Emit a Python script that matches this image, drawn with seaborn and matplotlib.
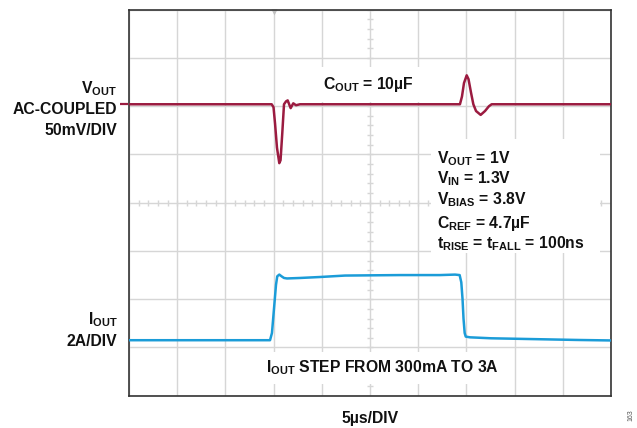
import numpy as np
import pandas as pd
import matplotlib
matplotlib.use("Agg")
import matplotlib.pyplot as plt
from matplotlib.patches import Rectangle
import seaborn as sns

t_vout = [0, 14.80, 14.99, 15.15, 15.35, 15.59, 15.72, 15.90, 16.08, 16.29, 16.46,
          16.77, 17.04, 17.32, 17.74, 34.33, 34.54, 34.75, 35.03, 35.22, 35.48,
          35.72, 36.00, 36.48, 36.93, 37.34, 37.62, 38.48, 50]
vout_mv = [0, 0, -3, -20, -45, -61, -58, -30, 0, 3, 4,
           -4, 1, -1, 0, 0, 8, 22, 30, 26, 12,
           0, -7, -11, -7, -2, 0, 0, 0]

t_iout = [0, 14.63, 14.83, 15.04, 15.25, 15.38, 15.59, 15.82, 16.08, 16.39, 17.74,
          19.81, 22.41, 28.11, 32.26, 33.82, 34.30, 34.47, 34.60, 34.70, 34.82,
          34.93, 35.37, 37.55, 41.39, 46.58, 50]
iout_a = [0.30, 0.30, 0.60, 1.60, 2.60, 2.95, 3.02, 2.95, 2.88, 2.86, 2.88,
          2.92, 2.98, 3.00, 3.00, 3.02, 3.00, 2.70, 2.00, 1.20, 0.60,
          0.45, 0.42, 0.38, 0.35, 0.31, 0.29]

us_por_div = 5
mv_por_div = 50
a_por_div = 2
vout_offset = 6.04   # posicao do canal Vout (divisoes)
iout_zero = 1.0      # posicao do zero do canal Iout (divisoes)
trigger_us = 15

cor_vout = "#9B1B40"
cor_iout = "#1B9CD8"
cor_grade = "#D6D6D6"
cor_texto = "#111111"

df_v = pd.DataFrame({"t": t_vout, "y": vout_offset + np.array(vout_mv) / mv_por_div})
df_i = pd.DataFrame({"t": t_iout, "y": iout_zero + np.array(iout_a) / a_por_div})

sns.set_theme(style="white")
plt.rcParams["font.family"] = ["Liberation Sans", "DejaVu Sans"]
plt.rcParams["mathtext.fontset"] = "custom"
plt.rcParams["mathtext.rm"] = "Liberation Sans:bold"
plt.rcParams["mathtext.it"] = "Liberation Sans:bold"
plt.rcParams["mathtext.bf"] = "Liberation Sans:bold"
plt.rcParams["text.color"] = cor_texto

fig = plt.figure(figsize=(6.37, 4.28), dpi=100)
ax = fig.add_axes([129 / 637, 1 - 395.7 / 428, 482 / 637, 386 / 428])

ax.set_xlim(0, 10 * us_por_div)
ax.set_ylim(0, 8)
ax.set_xticks(np.arange(0, 10 * us_por_div + 1, us_por_div))
ax.set_yticks(np.arange(0, 9, 1))
ax.set_xticklabels([])
ax.set_yticklabels([])
ax.tick_params(length=0)
ax.set_axisbelow(True)
ax.grid(True, color=cor_grade, lw=1.0)
for s in ax.spines.values():
    s.set_color("#333333")
    s.set_linewidth(1.2)

# eixos centrais com marcas menores
cx = 5 * us_por_div
ax.vlines(np.arange(0, 10 * us_por_div + 0.01, us_por_div / 5), 4 - 0.06, 4 + 0.06,
          color=cor_grade, lw=1.0, zorder=0.6)
ax.hlines(np.arange(0, 8.01, 0.2), cx - 0.35, cx + 0.35, color=cor_grade, lw=1.0, zorder=0.6)

# caixa branca que corta a grade atras do bloco de condicoes
ax.add_patch(Rectangle((6.27 * us_por_div, 2.96), 3.5 * us_por_div, 2.37,
                       facecolor="white", edgecolor="none", zorder=1))

sns.lineplot(data=df_v, x="t", y="y", estimator=None, color=cor_vout, lw=1.8, ax=ax, zorder=3)
sns.lineplot(data=df_i, x="t", y="y", estimator=None, color=cor_iout, lw=1.8, ax=ax, zorder=3)
ax.set_xlabel("")
ax.set_ylabel("")

# marcador de nivel do Vout e do trigger
ax.plot([-0.47], [vout_offset], marker="_", ms=6, mew=1.6, color=cor_vout, clip_on=False)
ax.plot([trigger_us], [7.96], marker="v", ms=5, color="#C0C0C0", mec="none", clip_on=False)

fs = 11.3
# rotulos a esquerda
xl = -0.243 * us_por_div
ax.text(xl, 6.27, r"V$_{OUT}$", ha="right", va="baseline", fontsize=fs, fontweight="bold", clip_on=False)
ax.text(xl, 5.84, "AC-COUPLED", ha="right", va="baseline", fontsize=fs, fontweight="bold", clip_on=False)
ax.text(xl, 5.41, "50mV/DIV", ha="right", va="baseline", fontsize=fs, fontweight="bold", clip_on=False)
ax.text(xl, 1.48, r"I$_{OUT}$", ha="right", va="baseline", fontsize=fs, fontweight="bold", clip_on=False)
ax.text(xl, 1.04, "2A/DIV", ha="right", va="baseline", fontsize=fs, fontweight="bold", clip_on=False)

# textos internos
ax.text(4.02 * us_por_div, 6.36, r"C$_{OUT}$ = 10µF", ha="left", va="baseline", fontsize=fs,
        fontweight="bold", zorder=2,
        bbox=dict(facecolor="white", edgecolor="none", pad=6))
bloco = [r"V$_{OUT}$ = 1V", r"V$_{IN}$ = 1.3V", r"V$_{BIAS}$ = 3.8V",
         r"C$_{REF}$ = 4.7µF", r"t$_{RISE}$ = t$_{FALL}$ = 100ns"]
bases = [4.82, 4.41, 3.97, 3.48, 3.05]
for txt, yb in zip(bloco, bases):
    ax.text(6.38 * us_por_div, yb, txt, ha="left", va="baseline", fontsize=fs,
            fontweight="bold", zorder=4)
ax.text(2.84 * us_por_div, 0.48, r"I$_{OUT}$ STEP FROM 300mA TO 3A", ha="left", va="baseline",
        fontsize=fs, fontweight="bold", zorder=2,
        bbox=dict(facecolor="white", edgecolor="none", pad=5))

ax.text(5 * us_por_div, -0.56, "5µs/DIV", ha="center", va="baseline", fontsize=fs,
        fontweight="bold", clip_on=False)
fig.text(631 / 637, 1 - 415 / 428, "163", rotation=90, ha="center", va="center",
         fontsize=5, color="#555555")

plt.savefig("out.png", dpi=100)
